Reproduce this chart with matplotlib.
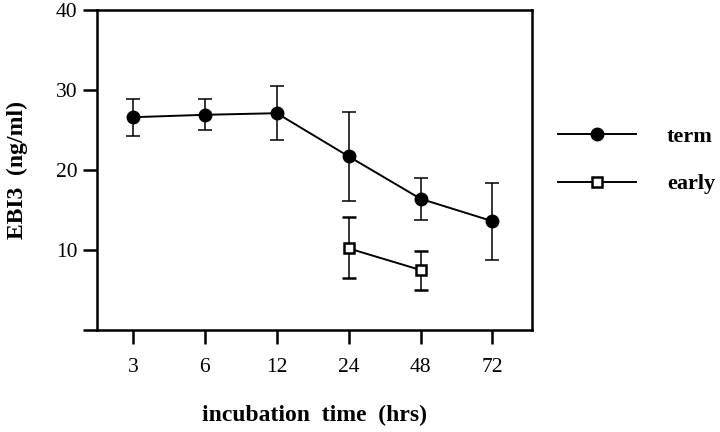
import matplotlib
matplotlib.use('Agg')
import matplotlib.pyplot as plt
import numpy as np

# incubation times (categorical axis)
hours = ['3', '6', '12', '24', '48', '72']

# term series: mean and error (lower / upper)
term_mean = [26.6, 26.9, 27.1, 21.7, 16.4, 13.6]
term_low = [2.3, 1.9, 3.4, 5.6, 2.7, 4.9]
term_high = [2.3, 2.0, 3.4, 5.6, 2.6, 4.8]

# early series only at 24 and 48 hrs
early_hours = ['24', '48']
early_mean = [10.2, 7.5]
early_low = [3.7, 2.5]
early_high = [3.9, 2.4]

plt.rcParams['font.family'] = ['Liberation Serif', 'DejaVu Serif']

fig = plt.figure(figsize=(7.2, 4.32), dpi=100)
ax = fig.add_axes([97 / 720, 1 - 330 / 432, 435 / 720, 320 / 432])

xpos = np.arange(len(hours))
early_x = [hours.index(h) for h in early_hours]

ax.errorbar(xpos, term_mean, yerr=[term_low, term_high], color='black',
            marker='o', markersize=9, linewidth=1.4, elinewidth=1.1,
            capsize=5, capthick=1.1, label='term')
ax.errorbar(early_x, early_mean, yerr=[early_low, early_high], color='black',
            marker='s', markersize=7, markerfacecolor='white',
            markeredgewidth=1.8, linewidth=1.4, elinewidth=1.1,
            capsize=5, capthick=1.1, label='early')

ax.set_xlim(-0.5, 5.55)
ax.set_ylim(0, 40)
ax.set_xticks(xpos)
ax.set_xticklabels(hours)
ax.set_yticks([0, 10, 20, 30, 40])
ax.set_yticklabels(['', '10', '20', '30', '40'])
ax.tick_params(direction='out', length=10, width=1.8, labelsize=15.5, pad=10)
ax.tick_params(axis='y', pad=4)
for s in ax.spines.values():
    s.set_linewidth(1.8)

ax.set_xlabel('incubation  time  (hrs)', fontsize=17, fontweight='bold', labelpad=20)
ax.set_ylabel('EBI3  (ng/ml)', fontsize=17, fontweight='bold', labelpad=20)

handles, labels = ax.get_legend_handles_labels()
handles = [h[0] for h in handles]
ax.legend(handles, labels, loc='center left', bbox_to_anchor=(1.06, 0.53),
          frameon=False, borderpad=0, borderaxespad=0,
          handlelength=3.5, handletextpad=1.4,
          labelspacing=1.2, prop={'size': 16, 'weight': 'bold'}, numpoints=1)

fig.savefig('out.png', dpi=100)
